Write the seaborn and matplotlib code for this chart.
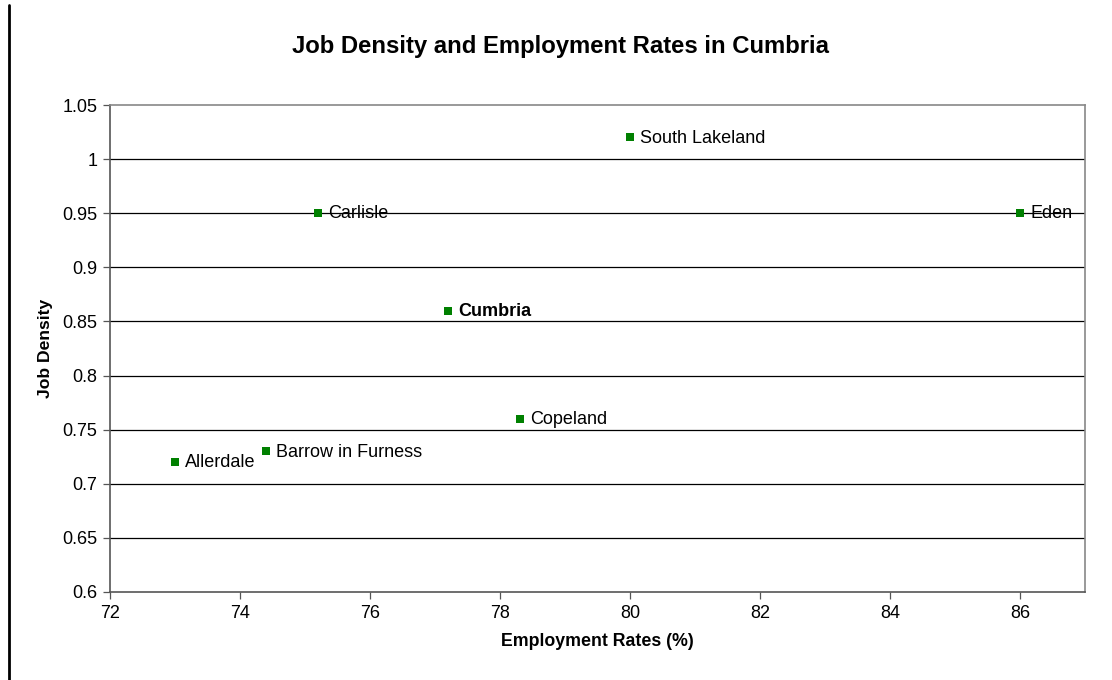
import matplotlib
matplotlib.use("Agg")
import matplotlib.pyplot as plt
import seaborn as sns
import pandas as pd
from matplotlib.lines import Line2D

# Districts of Cumbria: employment rate (%) against job density
areas = ["South Lakeland", "Eden", "Carlisle", "Cumbria", "Copeland",
         "Barrow in Furness", "Allerdale"]
employment_rates = [80.0, 86.0, 75.2, 77.2, 78.3, 74.4, 73.0]
job_density = [1.02, 0.95, 0.95, 0.86, 0.76, 0.73, 0.72]

x_ticks = [72, 74, 76, 78, 80, 82, 84, 86]
y_ticks = [0.6, 0.65, 0.7, 0.75, 0.8, 0.85, 0.9, 0.95, 1.0, 1.05]
y_tick_labels = ["0.6", "0.65", "0.7", "0.75", "0.8", "0.85", "0.9", "0.95", "1", "1.05"]

df = pd.DataFrame({"area": areas, "employment": employment_rates, "density": job_density})

sns.set_theme(style="white")
plt.rcParams["font.family"] = ["Liberation Sans", "DejaVu Sans"]
plt.rcParams["text.color"] = "#000000"
plt.rcParams["axes.labelcolor"] = "#000000"

fig = plt.figure(figsize=(11.12, 6.8), dpi=100)
ax = fig.add_axes([110 / 1112, 1 - 592 / 680, (1085 - 110) / 1112, (592 - 105) / 680])

for y in y_ticks[1:-1]:
    ax.axhline(y, color="#000000", lw=0.9, zorder=1)

sns.scatterplot(data=df, x="employment", y="density", ax=ax, marker="s", s=36,
                color="#008000", edgecolor="#008000", linewidth=0, zorder=3, legend=False)

for name, xv, yv in zip(areas, employment_rates, job_density):
    ax.annotate(name, (xv, yv), xytext=(7.5, -0.5), textcoords="offset points",
                va="center", ha="left", fontsize=13, color="#000000",
                fontweight="bold" if name == "Cumbria" else "normal", zorder=4)

ax.set_xlim(72, 87)
ax.set_ylim(0.6, 1.05)
ax.set_xticks(x_ticks)
ax.set_yticks(y_ticks)
ax.set_yticklabels(y_tick_labels)
ax.tick_params(axis="both", which="both", direction="out", length=5, width=0.9,
               color="#555555", labelsize=13, labelcolor="#000000", pad=4,
               bottom=True, left=True)

for side in ["left", "bottom"]:
    ax.spines[side].set_color("#555555")
    ax.spines[side].set_linewidth(1.2)
for side in ["top", "right"]:
    ax.spines[side].set_color("#888888")
    ax.spines[side].set_linewidth(1.2)

ax.set_xlabel("Employment Rates (%)", fontsize=12.8, fontweight="bold", labelpad=8)
ax.set_ylabel("Job Density", fontsize=12.6, fontweight="bold", labelpad=7)
fig.text(561 / 1112, 1 - 46 / 680, "Job Density and Employment Rates in Cumbria",
         ha="center", va="center", fontsize=17.2, fontweight="bold", color="#000000")

# Left-hand border rule
fig.add_artist(Line2D([9 / 1112, 9 / 1112], [0, 1 - 5 / 680], transform=fig.transFigure,
                      color="#000000", lw=2))

fig.savefig("out.png", dpi=100, facecolor="white")
